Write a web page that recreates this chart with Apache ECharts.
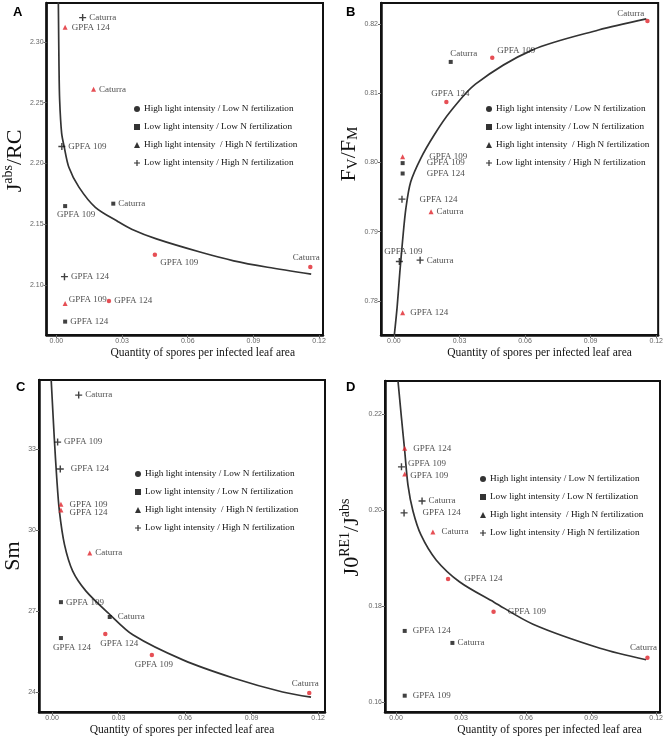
<!DOCTYPE html>
<html>
<head>
<meta charset="utf-8">
<script src="https://cdn.jsdelivr.net/npm/echarts@6/dist/echarts.min.js"></script>
<style>
  html, body { margin: 0; padding: 0; background: #fff; }
  #chart { width: 666px; height: 743px; }
</style>
</head>
<body>
<div id="chart"></div>
<script>
// cultivars, in the order used by every value array below
const cultivars = ['GPFA 109', 'GPFA 124', 'Caturra'];
const treatments = [
  'High light intensity / Low N fertilization',
  'Low light intensity / Low N fertilization',
  'High light intensity  / High N fertilization',
  'Low light intensity / High N fertilization'
];

// quantity of spores per infected leaf area (x), per treatment
const sporesHLLN = [0.045, 0.024, 0.116];
const sporesLLLN = [0.004, 0.004, 0.026];
const sporesHLHN = [0.004, 0.004, 0.017];
const sporesLLHN = [0.0025, 0.0037, 0.012];

// A : Jabs/RC
const jabsHLLN = [2.125, 2.087, 2.115];
const jabsLLLN = [2.165, 2.070, 2.167];
const jabsHLHN = [2.085, 2.312, 2.261];
const jabsLLHN = [2.214, 2.107, 2.320];
// B : Fv/Fm
const fvHLLN = [0.8151, 0.8087, 0.8204];
const fvLLLN = [0.7999, 0.7984, 0.8145];
const fvHLHN = [0.8008, 0.7783, 0.7929];
const fvLLHN = [0.7857, 0.7947, 0.7859];
// C : Sm
const smHLLN = [25.37, 26.15, 23.96];
const smLLLN = [27.33, 26.00, 26.78];
const smHLHN = [30.96, 30.74, 29.15];
const smLLHN = [33.26, 32.26, 35.00];
// D : J0RE1/Jabs
const reHLLN = [0.1788, 0.1856, 0.1692];
const reLLLN = [0.1613, 0.1748, 0.1723];
const reHLHN = [0.2075, 0.2129, 0.1954];
const reLLHN = [0.2090, 0.1994, 0.2019];

// fitted curves
const curveAx = [0.0009, 0.0012, 0.0015, 0.0024, 0.0036, 0.0057, 0.0103, 0.0178, 0.0284, 0.0344, 0.0457, 0.066, 0.081, 0.0965, 0.1164];
const curveAy = [2.333, 2.280, 2.252, 2.225, 2.2135, 2.197, 2.1806, 2.164, 2.152, 2.146, 2.138, 2.127, 2.120, 2.1147, 2.109];
const curveBx = [0.0002, 0.0015, 0.0027, 0.004, 0.0055, 0.0077, 0.0123, 0.0185, 0.0255, 0.0373, 0.0632, 0.0936, 0.1155];
const curveBy = [0.7751, 0.7792, 0.7841, 0.7888, 0.7934, 0.7972, 0.8006, 0.8040, 0.8072, 0.8113, 0.8162, 0.8191, 0.8207];
const curveCx = [-0.0004, 0.001, 0.0021, 0.0033, 0.0056, 0.0093, 0.0153, 0.0257, 0.0366, 0.059, 0.0817, 0.104, 0.1168];
const curveCy = [35.56, 33.40, 31.93, 30.70, 29.46, 28.48, 27.74, 26.90, 26.11, 25.19, 24.52, 24.00, 23.81];
const curveDx = [0.0009, 0.0025, 0.004, 0.0055, 0.0078, 0.0115, 0.0185, 0.0294, 0.0452, 0.0632, 0.0941, 0.1154];
const curveDy = [0.2269, 0.2192, 0.2123, 0.2052, 0.1998, 0.1948, 0.1896, 0.1850, 0.1808, 0.1762, 0.1712, 0.1688];

// tick labels
const xTicks = [0, 0.03, 0.06, 0.09, 0.12];
const yTicksA = [2.10, 2.15, 2.20, 2.25, 2.30];
const yTicksB = [0.78, 0.79, 0.80, 0.81, 0.82];
const yTicksC = [24, 27, 30, 33];
const yTicksD = [0.16, 0.18, 0.20, 0.22];

const sporesX = [sporesHLLN, sporesLLLN, sporesHLHN, sporesLLHN];
const panelsY = [
  [jabsHLLN, jabsLLLN, jabsHLHN, jabsLLHN],
  [fvHLLN, fvLLLN, fvHLHN, fvLLHN],
  [smHLLN, smLLLN, smHLHN, smLLHN],
  [reHLLN, reLLLN, reHLHN, reLLHN]
];
const curves = [[curveAx, curveAy], [curveBx, curveBy], [curveCx, curveCy], [curveDx, curveDy]];

var chartDom = document.getElementById('chart');
var myChart = echarts.init(chartDom);

const RED = '#e0232b';
const serif = 'Liberation Serif';
const plusPath = 'path://M4,0h2v4h4v2h-4v4h-2v-4h-4v-2h4z';
const symbols = ['circle', 'rect', 'triangle', plusPath];
const symSize = [4.5, 4, 5, 7];
const symColor = [RED, '#111', RED, '#111'];

// grid boxes and axis ranges (pixels / data extents)
const grids = [
  { left: 44, top: 3, width: 279, height: 332 },
  { left: 381, top: 3, width: 279, height: 332 },
  { left: 39, top: 380, width: 286, height: 332 },
  { left: 385, top: 381, width: 275, height: 331 }
];
const xRange = [[-0.0045, 0.1218], [-0.0059, 0.1209], [-0.0059, 0.1231], [-0.0051, 0.1218]];
const yRange = [[2.059, 2.332], [0.7751, 0.823], [23.26, 35.56], [0.1579, 0.2269]];
const yTicks = [yTicksA, yTicksB, yTicksC, yTicksD];
const yDigits = [2, 2, 0, 2];
const yGap = [19, 18, 14, 22];
// shift of the y titles along the axis (text-frame padding)
const yNamePad = [[0, 0, 0, 16], [0, 0, 0, 30], [0, 20, 0, 0], [0, 0, 0, 18]];
const xNamePad = [36, 40, 0, 54];
const legendPos = [[134, 102.5], [486, 102.5], [135, 467.5], [480, 472.5]];

// label placement per panel / treatment / cultivar: [position, distance, offsetX, offsetY]
const R = (d, ox, oy) => ['right', d || 3, ox || 0, oy || 0];
const labelPlace = [
  [
    [R(3, 0, 8), R(3), ['top', 3, -4, 0]],
    [['bottom', 2, 11, 0], R(3), R(3)],
    [R(1, 0, -4), R(4), R(3)],
    [R(3), R(3), R(3)]
  ],
  [
    [['top', 2, 24, 2], ['top', 2, 4, 0], ['left', 1, 0, -7]],
    [R(22), R(22), ['top', 2, 13, 0]],
    [R(24), R(5), R(3)],
    [['top', 2, 4, 0], R(14), R(3)]
  ],
  [
    [['bottom', 3, 2, 0], ['bottom', 3, 14, 0], ['top', 3, -4, 0]],
    [R(3), ['bottom', 3, 11, 0], R(6)],
    [R(6), R(6, 0, 3), R(3)],
    [R(3), R(7), R(3)]
  ],
  [
    [R(12), R(14), ['top', 3, -4, 0]],
    [R(6), R(6), R(3)],
    [R(3, 0, 2), R(6), R(6)],
    [R(3, 0, -3), R(15), R(3)]
  ]
];

const yNames = [
  '{m|J}{s|abs}{m|/RC}',
  '{m|F}{n|V}{m|/F}{n|M}',
  '{m|Sm}',
  '{m|J0}{s|RE1}{m|/J}{s|abs}'
];
const nameRich = {
  m: { fontFamily: serif, fontSize: 22, color: '#111', verticalAlign: 'bottom', lineHeight: 25 },
  s: { fontFamily: serif, fontSize: 14, color: '#111', verticalAlign: 'top', lineHeight: 25 },
  n: { fontFamily: serif, fontSize: 15, color: '#111', verticalAlign: 'bottom', lineHeight: 25 }
};

const xAxes = [], yAxes = [], series = [], legends = [];
for (let p = 0; p < 4; p++) {
  xAxes.push({
    type: 'value', gridIndex: p, min: xRange[p][0], max: xRange[p][1],
    name: 'Quantity of spores per infected leaf area',
    nameLocation: 'middle', nameGap: 12,
    nameTextStyle: { fontFamily: serif, fontSize: 11.5, color: '#111', padding: [0, 0, 0, xNamePad[p]] },
    axisLine: { show: true, onZero: false, lineStyle: { color: '#111', width: 2.5 } },
    axisTick: { show: true, length: 3, customValues: xTicks, lineStyle: { color: '#666' } },
    axisLabel: { customValues: xTicks, fontSize: 7, color: '#666', margin: 3, formatter: v => v.toFixed(2) },
    splitLine: { show: false }
  });
  yAxes.push({
    type: 'value', gridIndex: p, min: yRange[p][0], max: yRange[p][1],
    name: yNames[p], nameLocation: 'middle', nameGap: yGap[p], nameRotate: 90,
    nameTextStyle: { rich: nameRich, padding: yNamePad[p] },
    axisLine: { show: true, onZero: false, lineStyle: { color: '#111', width: 2.5 } },
    axisTick: { show: true, length: 3, customValues: yTicks[p], lineStyle: { color: '#666' } },
    axisLabel: { customValues: yTicks[p], fontSize: 7, color: '#666', margin: 3, formatter: v => v.toFixed(yDigits[p]) },
    splitLine: { show: false }
  });
  for (let t = 0; t < 4; t++) {
    series.push({
      type: 'scatter', name: treatments[t], xAxisIndex: p, yAxisIndex: p,
      symbol: symbols[t], symbolSize: symSize[t],
      itemStyle: { color: symColor[t] },
      z: 3,
      data: cultivars.map((c, i) => {
        const lp = labelPlace[p][t][i];
        return {
          name: c,
          value: [sporesX[t][i], panelsY[p][t][i]],
          label: { show: true, position: lp[0], distance: lp[1], offset: [lp[2], lp[3]], formatter: '{b}',
                   fontFamily: serif, fontSize: 9, color: '#222' }
        };
      })
    });
  }
  series.push({
    type: 'line', xAxisIndex: p, yAxisIndex: p, showSymbol: false, smooth: 0.3,
    lineStyle: { color: '#333', width: 1.7 }, z: 2, silent: true,
    data: curves[p][0].map((x, i) => [x, curves[p][1][i]])
  });
  legends.push({
    orient: 'vertical', left: legendPos[p][0], top: legendPos[p][1], padding: 0,
    itemWidth: 6, itemHeight: 6, itemGap: 5, selectedMode: false,
    textStyle: { fontFamily: serif, fontSize: 9.2, color: '#111', lineHeight: 13, padding: [0, 0, 0, -1] },
    data: treatments.map((n, t) => ({ name: n, icon: symbols[t], itemStyle: { color: '#000' } }))
  });
}

var option = {
  backgroundColor: '#fff',
  animation: false,
  grid: grids.map(g => Object.assign({ show: true, borderColor: '#111', borderWidth: 2, containLabel: false }, g)),
  xAxis: xAxes,
  yAxis: yAxes,
  legend: legends,
  graphic: [
    { type: 'text', left: 13, top: 6, style: { text: 'A', font: 'bold 13px Liberation Sans', fill: '#000' } },
    { type: 'text', left: 346, top: 6, style: { text: 'B', font: 'bold 13px Liberation Sans', fill: '#000' } },
    { type: 'text', left: 16, top: 381, style: { text: 'C', font: 'bold 13px Liberation Sans', fill: '#000' } },
    { type: 'text', left: 346, top: 381, style: { text: 'D', font: 'bold 13px Liberation Sans', fill: '#000' } }
  ],
  series: series
};

option && myChart.setOption(option);
</script>
</body>
</html>
